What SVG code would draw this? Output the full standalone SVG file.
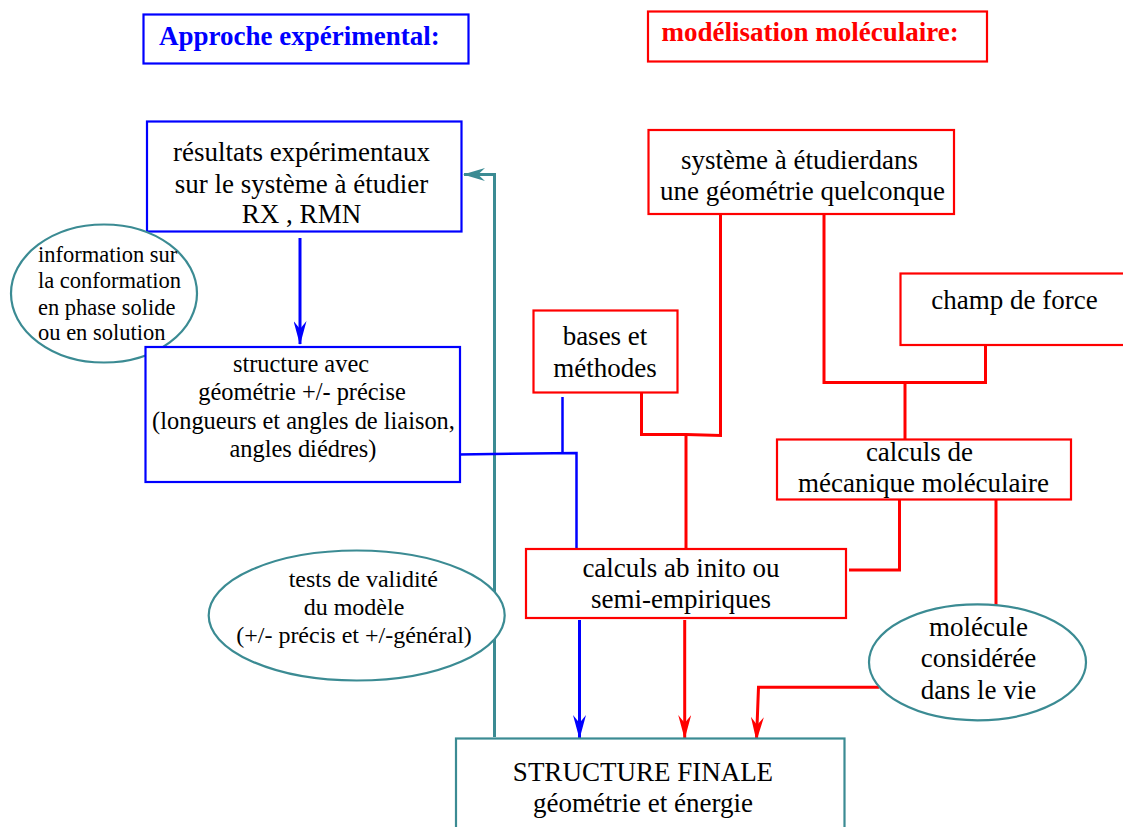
<svg xmlns="http://www.w3.org/2000/svg" width="1123" height="827" viewBox="0 0 1123 827">
<defs>
<style>
.t{font-family:"Liberation Serif","Times New Roman",serif;fill:#000;}
.c{text-anchor:middle;}
.bx{fill:#fff;stroke-width:2.2;}
.blue{stroke:#0000ff;}
.red{stroke:#ff0000;}
.teal{stroke:#3b8b93;}
.ov{stroke:#3b8b93;stroke-width:2.2;}
.ln{fill:none;stroke-width:3;}
.ln2{fill:none;stroke-width:2.5;}
</style>
<marker id="arB" markerUnits="userSpaceOnUse" markerWidth="24" markerHeight="13" refX="23" refY="6.5" orient="auto" viewBox="0 0 24 13">
<path d="M0,0 L24,6.5 L0,13 L8,6.5 z" fill="#0000ff"/>
</marker>
<marker id="arR" markerUnits="userSpaceOnUse" markerWidth="24" markerHeight="13" refX="23" refY="6.5" orient="auto" viewBox="0 0 24 13">
<path d="M0,0 L24,6.5 L0,13 L8,6.5 z" fill="#ff0000"/>
</marker>
<marker id="arT" markerUnits="userSpaceOnUse" markerWidth="22" markerHeight="13" refX="21" refY="6.5" orient="auto" viewBox="0 0 22 13">
<path d="M0,0 L22,6.5 L0,13 L7,6.5 z" fill="#3b8b93"/>
</marker>
</defs>
<rect width="1123" height="827" fill="#fff"/>

<g id="connectors">
<path class="ln teal" d="M494.5,737 V174.5 H464" marker-end="url(#arT)"/>
<path class="ln blue" d="M300,238 V344" marker-end="url(#arB)"/>
<path class="ln2 blue" d="M458,454.5 L576.5,453 V548"/>
<path class="ln2 blue" d="M562.5,397 V454"/>
<path class="ln red" d="M641.5,393 V434.5 L686,434.5 L720.5,435.5 V214"/>
<path class="ln red" d="M686,434 V549"/>
<path class="ln red" d="M824,214 V382.5 H985.5 V345"/>
<path class="ln red" d="M905,382 V439"/>
<path class="ln red" d="M899.5,500 V570 H849"/>
<path class="ln red" d="M996,500 V605"/>
<path class="ln blue" d="M579.5,620 V738" marker-end="url(#arB)"/>
<path class="ln red" d="M684.7,620 V738" marker-end="url(#arR)"/>
<path class="ln red" d="M879,687.3 H758.5 L756.5,740" marker-end="url(#arR)"/>
</g>

<g id="hdr-exp">
<rect class="bx blue" x="143.5" y="14.5" width="325" height="49"/>
<text class="t" x="159" y="44.5" font-size="27" font-weight="bold" style="fill:#0000ff">Approche expérimental:</text>
</g>
<g id="hdr-mod">
<rect class="bx red" x="648" y="11.5" width="339" height="50"/>
<text class="t" x="661.5" y="41" font-size="27" font-weight="bold" style="fill:#ff0000">modélisation moléculaire:</text>
</g>

<g id="resultats">
<rect class="bx blue" x="147" y="121.5" width="314.5" height="110"/>
<text class="t c" font-size="27"><tspan x="301.5" y="161">résultats expérimentaux</tspan><tspan x="301.5" y="192.5">sur le système à étudier</tspan><tspan x="301.5" y="223">RX , RMN</tspan></text>
</g>

<g id="info">
<ellipse class="ov" cx="104" cy="293.5" rx="93" ry="69" fill="none"/>
<text class="t" font-size="22.5"><tspan x="38" y="262">information sur</tspan><tspan x="38" y="288">la conformation</tspan><tspan x="38" y="314.5">en phase solide</tspan><tspan x="38" y="340">ou en solution</tspan></text>
</g>

<g id="structure">
<rect class="bx blue" x="145.5" y="347" width="314.5" height="135"/>
<text class="t c" font-size="24.4"><tspan x="301" y="372">structure avec</tspan><tspan x="302" y="400">géométrie +/- précise</tspan><tspan x="303.5" y="428.5">(longueurs et angles de liaison,</tspan><tspan x="303" y="457">angles diédres)</tspan></text>
</g>

<g id="systeme">
<rect class="bx red" x="648.5" y="130" width="305.5" height="84"/>
<text class="t c" font-size="27"><tspan x="799.5" y="168.5">système à étudierdans</tspan><tspan x="802.5" y="200">une géométrie quelconque</tspan></text>
</g>

<g id="champ">
<rect class="bx red" x="900.5" y="273.5" width="235" height="71.5"/>
<text class="t c" font-size="27" x="1014.5" y="309">champ de force</text>
</g>

<g id="bases">
<rect class="bx red" x="533.5" y="310.5" width="144" height="82"/>
<text class="t c" font-size="27"><tspan x="605" y="345">bases et</tspan><tspan x="605" y="377">méthodes</tspan></text>
</g>

<g id="mecanique">
<rect class="bx red" x="777" y="439.5" width="294" height="60"/>
<text class="t c" font-size="27"><tspan x="919.5" y="460.5">calculs de</tspan><tspan x="923.5" y="492">mécanique moléculaire</tspan></text>
</g>

<g id="abinitio">
<rect class="bx red" x="526" y="549" width="320" height="69"/>
<text class="t c" font-size="27"><tspan x="681" y="576.5">calculs ab inito ou</tspan><tspan x="681" y="607.5">semi-empiriques</tspan></text>
</g>

<g id="tests">
<ellipse class="ov" cx="356.7" cy="615.5" rx="148" ry="65" fill="#fff"/>
<text class="t c" font-size="24"><tspan x="363.3" y="587">tests de validité</tspan><tspan x="354" y="615">du modèle</tspan><tspan x="354" y="643">(+/- précis et +/-général)</tspan></text>
</g>

<g id="molecule">
<ellipse class="ov" cx="977.5" cy="662.3" rx="108.5" ry="58" fill="#fff"/>
<text class="t c" font-size="27"><tspan x="978.5" y="636">molécule</tspan><tspan x="978.5" y="667">considérée</tspan><tspan x="978.5" y="699">dans le vie</tspan></text>
</g>

<g id="finale">
<rect class="ov" x="456" y="738.5" width="388.5" height="100" fill="#fff"/>
<text class="t c" font-size="27"><tspan x="643" y="780.5">STRUCTURE FINALE</tspan><tspan x="643" y="812">géométrie et énergie</tspan></text>
</g>
</svg>
